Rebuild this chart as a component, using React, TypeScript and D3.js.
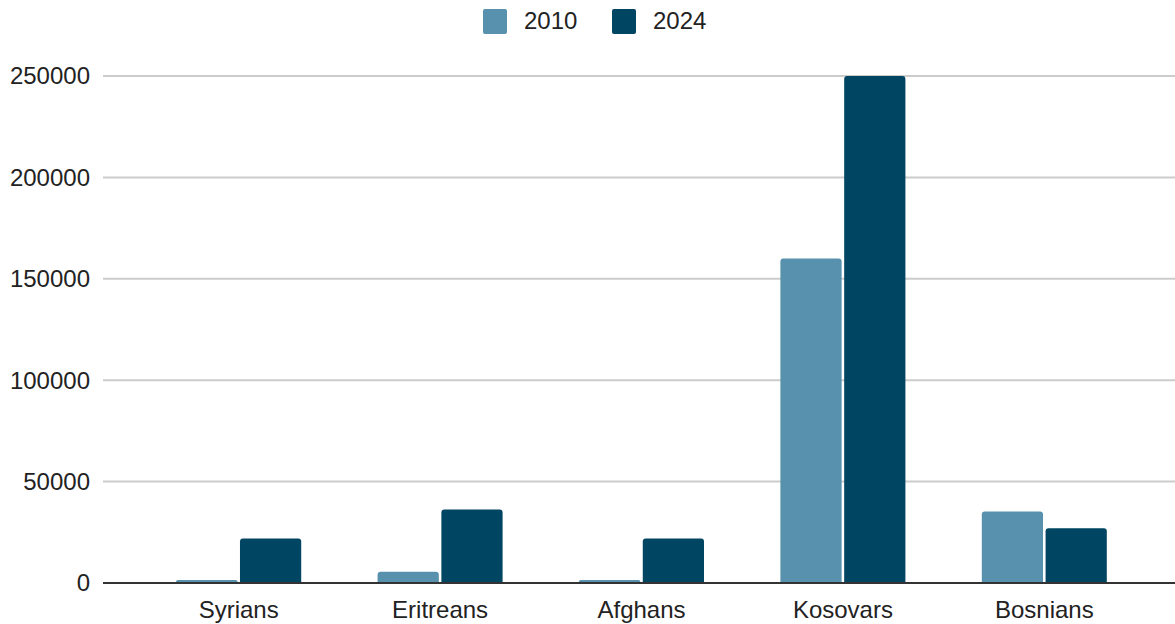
import React from "react";
import * as d3 from "d3";

const categories = ["Syrians", "Eritreans", "Afghans", "Kosovars", "Bosnians"];
const seriesNames = ["2010", "2024"];
const values2010 = [1500, 5600, 1500, 160000, 35200];
const values2024 = [22000, 36300, 22000, 250000, 27000];
const yTicks = [0, 50000, 100000, 150000, 200000, 250000];
const colors = ["#5891ad", "#004561"];

const W = 1175;
const H = 624;
const FONT = "Arial, 'Liberation Sans', sans-serif";

export default function App() {
  const y = d3.scaleLinear().domain([0, 250000]).range([583, 76]);
  const x = d3.scaleBand<string>().domain(categories).range([138, 1145]);
  const inner = d3.scaleBand<string>().domain(seriesNames).range([0, 125]).paddingInner(0.04);
  const series = [values2010, values2024];
  const gridLeft = 103;
  const gridRight = 1175;

  return (
    <svg width={W} height={H} style={{ position: "absolute", left: 0, top: 0, background: "#fff" }}>
      {yTicks.map((t) => (
        <g key={t}>
          {t !== 0 && (
            <line x1={gridLeft} x2={gridRight} y1={y(t)} y2={y(t)} stroke="#cccccc" strokeWidth={2} />
          )}
          <text x={90} y={y(t)} dy="0.35em" textAnchor="end" fontFamily={FONT} fontSize={24} fill="#222">
            {t}
          </text>
        </g>
      ))}
      {categories.map((c, i) => {
        const cx = (x(c) as number) + x.bandwidth() / 2 - 62.5;
        return (
          <g key={c}>
            {series.map((vals, s) => {
              const bx = cx + (inner(seriesNames[s]) as number);
              const top = y(vals[i]);
              const h = y(0) - top;
              const r = Math.min(3, h / 2);
              const bw = inner.bandwidth();
              const p = `M${bx},${y(0)} L${bx},${top + r} Q${bx},${top} ${bx + r},${top} L${bx + bw - r},${top} Q${bx + bw},${top} ${bx + bw},${top + r} L${bx + bw},${y(0)} Z`;
              return <path key={s} d={p} fill={colors[s]} />;
            })}
            <text x={(x(c) as number) + x.bandwidth() / 2} y={618} textAnchor="middle" fontFamily={FONT} fontSize={24} fill="#222">
              {c}
            </text>
          </g>
        );
      })}
      <line x1={gridLeft} x2={gridRight} y1={y(0)} y2={y(0)} stroke="#333" strokeWidth={2} />
      {seriesNames.map((n, i) => {
        const lx = [483, 612][i];
        return (
          <g key={n}>
            <rect x={lx} y={9} width={24} height={25} rx={2} fill={colors[i]} />
            <text x={lx + 41} y={21} dy="0.35em" fontFamily={FONT} fontSize={24} fill="#222">
              {n}
            </text>
          </g>
        );
      })}
    </svg>
  );
}
